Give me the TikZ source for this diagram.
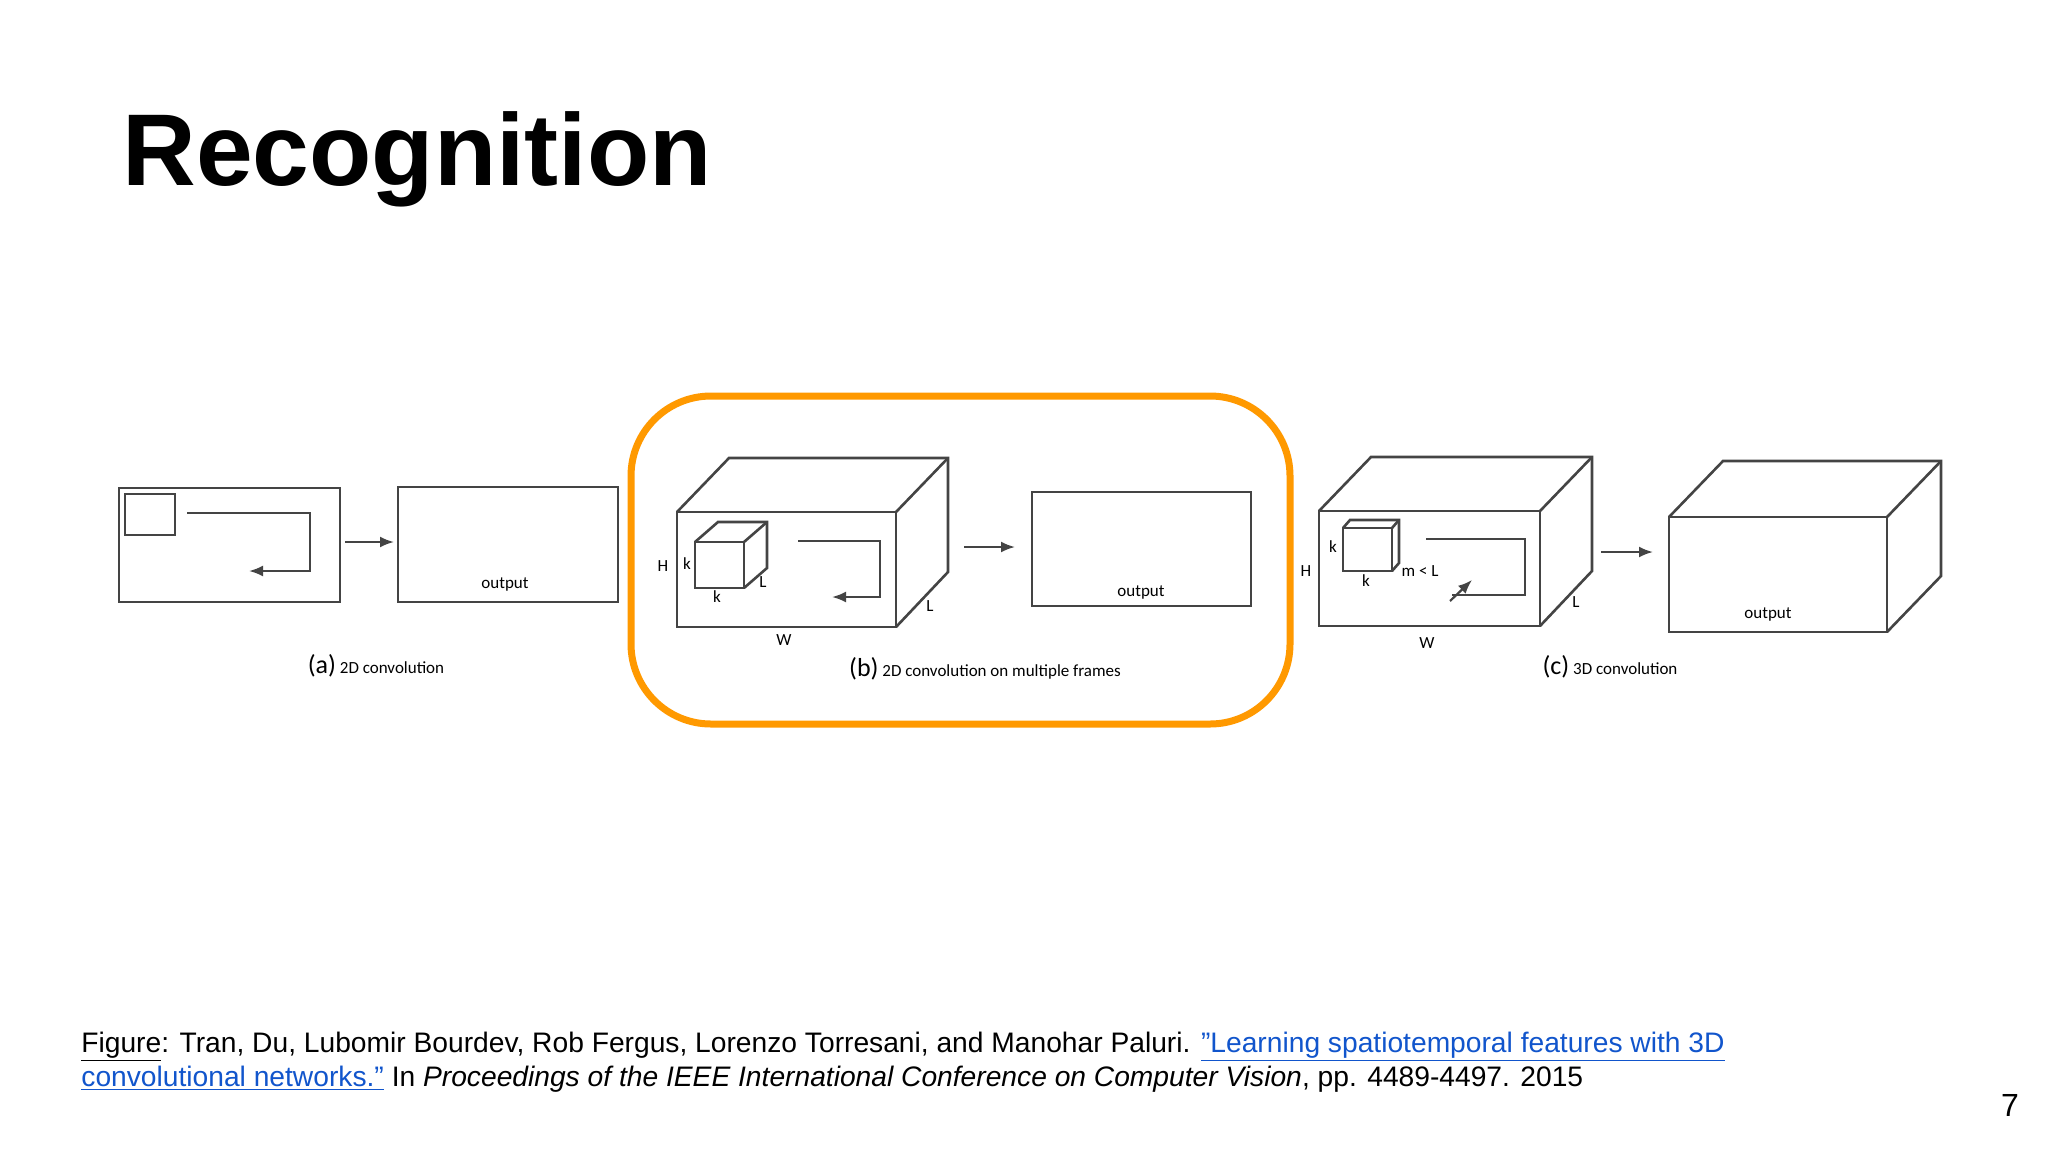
\documentclass[tikz,border=0pt]{standalone}
\usepackage{fontspec}
\setmainfont{Liberation Sans}
\newfontfamily\figfont{Carlito}
\usetikzlibrary{arrows.meta}
\definecolor{orng}{HTML}{FF9900}
\definecolor{lnk}{HTML}{1155CC}
\definecolor{ln}{HTML}{444444}
\begin{document}
\begin{tikzpicture}[x=0.5pt,y=-0.5pt,
  box/.style={draw=ln,line width=1.3pt},
  arr/.style={draw=ln,line width=1.1pt,-{Latex[length=7pt,width=5.5pt]}},
  lbl/.style={font=\figfont\fontsize{8.5}{9}\selectfont,inner sep=0pt},
  captext/.style={font=\figfont\fontsize{8.5}{9}\selectfont,inner sep=0pt}]
\useasboundingbox (0,0) rectangle (2048,1152);
\fill[white] (0,0) rectangle (2048,1152);
\node[anchor=west,font=\bfseries\fontsize{51}{56}\selectfont,inner sep=0pt] (title) at (122,159) {Recognition};
% (a)
\draw[box] (119,488) rectangle (340,602);
\draw[box] (125,494) rectangle (175,535);
\draw[arr] (187,513) -- (310,513) -- (310,571) -- (249,571);
\coordinate (a1) at (345,542); \coordinate (a2) at (394,542);
\draw[arr] (a1) -- (a2);
\draw[box] (398,487) rectangle (618,602);
\node[lbl] (oa) at (505,584) {output};
\node[captext] (ca) at (376,666) {{\fontsize{13}{13}\selectfont(a)} 2D convolution};
% orange
\draw[orng,line width=3.5pt,rounded corners=40] (631,396) rectangle (1290,724);
% (b)
\draw[box] (677,512) rectangle (896,627);
\draw[box] (677,512) -- (729,458) -- (948,458) -- (948,572) -- (896,627);
\draw[box] (896,512) -- (948,458);
\draw[box] (695,542) rectangle (744,588);
\draw[box] (695,542) -- (718,522) -- (767,522) -- (767,568) -- (744,588);
\draw[box] (744,542) -- (767,522);
\node[lbl] (bH) at (663,566) {H};
\node[lbl] (bk1) at (687,564) {k};
\node[lbl] (bL1) at (763,582) {L};
\node[lbl] (bk2) at (717,597) {k};
\node[lbl] (bL2) at (930,606) {L};
\node[lbl] (bW) at (784,640) {W};
\draw[arr] (798,541) -- (880,541) -- (880,597) -- (832,597);
\coordinate (b1) at (964,547); \coordinate (b2) at (1015,547);
\draw[arr] (b1) -- (b2);
\draw[box] (1032,492) rectangle (1251,606);
\node[lbl] (ob) at (1141,592) {output};
\node[captext] (cb) at (985,669) {{\fontsize{13}{13}\selectfont(b)} 2D convolution on multiple frames};
% (c)
\draw[box] (1319,511) rectangle (1540,626);
\draw[box] (1319,511) -- (1371,457) -- (1592,457) -- (1592,571) -- (1540,626);
\draw[box] (1540,511) -- (1592,457);
\draw[box] (1343,528) rectangle (1392,571);
\draw[box] (1343,528) -- (1350,520) -- (1399,520) -- (1399,563) -- (1392,571);
\draw[box] (1392,528) -- (1399,520);
\node[lbl] (cH) at (1306,571) {H};
\node[lbl] (ck1) at (1333,547) {k};
\node[lbl] (ck2) at (1366,581) {k};
\node[lbl] (cm) at (1420,571) {m < L};
\node[lbl] (cL) at (1576,602) {L};
\node[lbl] (cW) at (1427,643) {W};
\draw[box] (1426,539) -- (1525,539) -- (1525,595) -- (1452,595);
\draw[arr] (1450,601) -- (1472,580);
\coordinate (c1) at (1601,552); \coordinate (c2) at (1653,552);
\draw[arr] (c1) -- (c2);
\draw[box] (1669,517) rectangle (1887,632);
\draw[box] (1669,517) -- (1723,461) -- (1941,461) -- (1941,576) -- (1887,632);
\draw[box] (1887,517) -- (1941,461);
\node[lbl] (oc) at (1768,614) {output};
\node[captext] (cc) at (1610,667) {{\fontsize{13}{13}\selectfont(c)} 3D convolution};
% footer
\node[anchor=base west,inner sep=0pt,font=\fontsize{14.1}{16}\selectfont] (f1) at (81,1052) {\underline{Figure}: Tran, Du, Lubomir Bourdev, Rob Fergus, Lorenzo Torresani, and Manohar Paluri. \textcolor{lnk}{\underline{\symbol{34}Learning spatiotemporal features with 3D}}};
\node[anchor=base west,inner sep=0pt,font=\fontsize{14.1}{16}\selectfont] (f2) at (81,1086) {\textcolor{lnk}{\underline{convolutional networks.\symbol{34}}} In \textit{Proceedings of the IEEE International Conference on Computer Vision}, pp. 4489-4497. 2015};
\node[anchor=base,inner sep=0pt,font=\fontsize{16}{18}\selectfont] (pg) at (2010,1116) {7};
\end{tikzpicture}
\end{document}
